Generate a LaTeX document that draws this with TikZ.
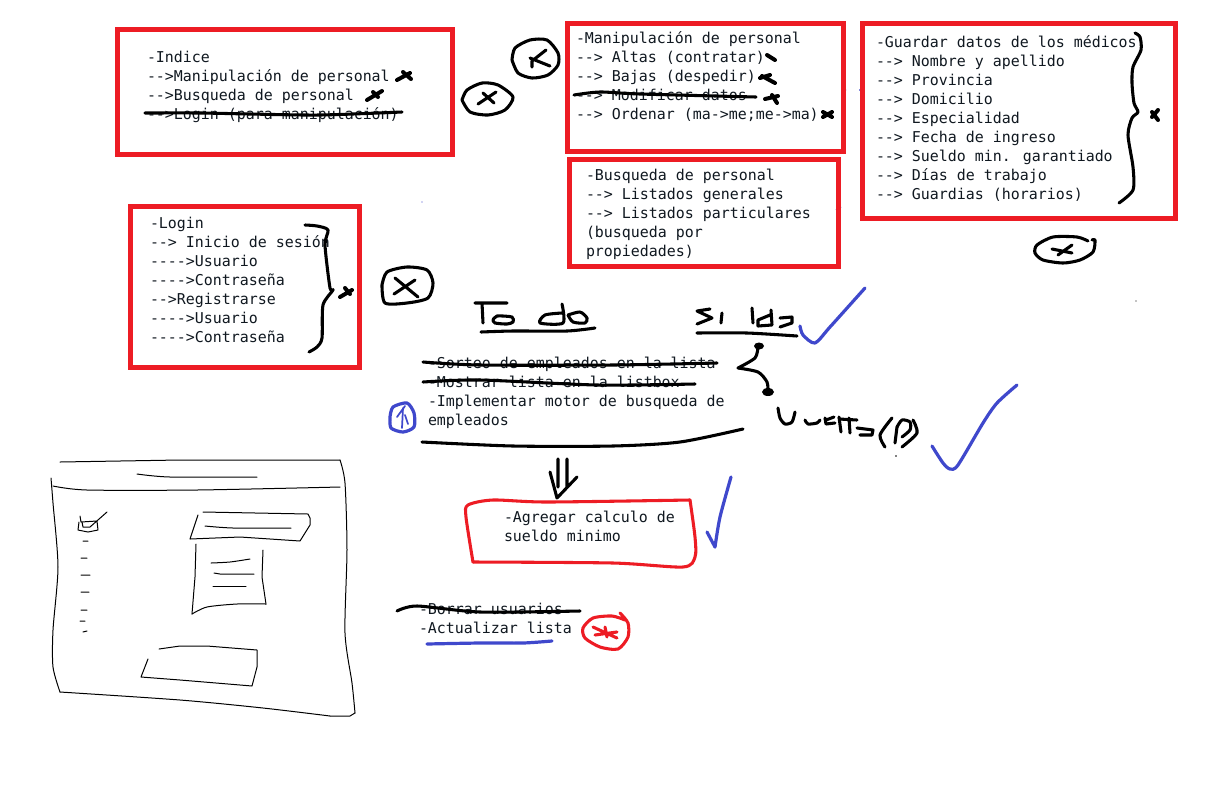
\documentclass[tikz,border=0pt]{standalone}
\usepackage{fontspec}
\newfontfamily\monof{DejaVu Sans Mono}
\newcommand\ls{\rule{0pt}{11pt}}
\newcommand\hand[2][ink]{\draw[#1] plot[smooth,tension=0.45] coordinates {#2};}
\definecolor{pred}{HTML}{ED1C24}
\definecolor{pblue}{HTML}{3F48CC}
\definecolor{tx}{HTML}{101820}
\tikzset{
 txt/.style={anchor=north west,inner sep=0pt,outer sep=0pt,align=left,text=tx,font=\monof\fontsize{11.2pt}{14.25pt}\selectfont},
 redbox/.style={draw=pred,line width=3.75pt,miter limit=10},
 ink/.style={draw=black,line width=2.3pt,line cap=round,line join=round},
 thick ink/.style={draw=black,line width=3pt,line cap=round,line join=round},
 pen/.style={draw=black,line width=0.75pt,line cap=round,line join=round},
 bluepen/.style={draw=pblue,line width=2.4pt,line cap=round,line join=round},
 bluefine/.style={draw=pblue,line width=1.3pt,line cap=round,line join=round},
 tinyblue/.style={draw=pblue,line width=0.9pt},
 redpen/.style={draw=pred,line width=2.3pt,line cap=round,line join=round},
}
\begin{document}
\begin{tikzpicture}[x=0.75pt,y=-0.75pt]
\useasboundingbox (0,0) rectangle (1211,794);
\fill[white] (0,0) rectangle (1211,794);
% blue specks
\draw[tinyblue] (845,52)--(845,53) (843,90)--(846,90) (861,50)--(862,57) (859,90)--(863,90) (861,193)--(864,186) (836,210)--(841,207);
% red boxes
\draw[redbox] (117.5,29.5) rectangle (452.5,154.5);
\draw[redbox] (567.5,23.5) rectangle (843.5,151.5);
\draw[redbox] (569.5,159.5) rectangle (838.5,266.5);
\draw[redbox] (862.5,23.5) rectangle (1175.5,218.5);
\draw[redbox] (130.5,206.5) rectangle (359.5,367.5);
% texts
\node[txt] (indice) at (147,47.33) {\ls-Indice\\-->Manipulación de personal\\-->Busqueda de personal\\-->Login (para manipulación)};
\node[txt] (manip) at (576,28.33) {\ls-Manipulación de personal\\--> Altas (contratar)\\--> Bajas (despedir)\\--> Modificar datos\\--> Ordenar (ma->me;me->ma)};
\node[txt] (busq) at (586,165.33) {\ls-Busqueda de personal\\--> Listados generales\\--> Listados particulares\\(busqueda por\\propiedades)};
\node[txt] (guardar) at (876,32.33) {\ls-Guardar datos de los médicos\\--> Nombre y apellido\\--> Provincia\\--> Domicilio\\--> Especialidad\\--> Fecha de ingreso\\--> Sueldo min. garantiado\\--> Días de trabajo\\--> Guardias (horarios)};
\node[txt] (login) at (150,213.33) {\ls-Login\\--> Inicio de sesión\\---->Usuario\\---->Contraseña\\-->Registrarse\\---->Usuario\\---->Contraseña};
\node[txt] (todo) at (428,353.33) {\ls-Sorteo de empleados en la lista\\-Mostrar lista en la listbox\\-Implementar motor de busqueda de\\empleados};
\node[txt] (agregar) at (504,507.33) {\ls-Agregar calculo de\\sueldo minimo};
\node[txt] (borrar) at (419,599.33) {\ls-Borrar usuarios\\-Actualizar lista};
% marks, box 1
\hand{(145,113)(200,113)(250,114)(320,115)(402,112)}
\draw[thick ink] (397,80)--(410,73) (403,72)--(411,79) (367,100)--(382,91) (373,92)--(378,97);
% circles top
\hand{(512,60)(515,48)(530,40)(547,40)(558,53)(558,65)(548,75)(532,78)(518,73)(512,60)}
\draw[ink] (530,58)--(550,66) (546,50)--(532,61)--(532,67);
\hand{(462,100)(467,90)(482,83)(498,85)(513,97)(505,110)(488,115)(470,112)(462,100)}
\draw[ink] (478,104)--(496,92) (483,93)--(494,103);
% marks, box 2
\hand{(574,95)(600,92)(640,94)(756,97)}
\draw[thick ink] (767,55)--(775,60) (762,76)--(775,83) (760,78)--(770,75) (765,99)--(778,96) (772,95)--(777,103) (823,112)--(832,117) (823,117)--(832,112);
% guardar brace
\hand{(1135,33)(1140,37)(1141,50)(1133,67)(1132,83)(1134,103)(1138,112)(1132,118)(1128,135)(1133,167)(1133,190)(1119,203)}
\draw[thick ink] (1152,112)--(1158,120) (1158,110)--(1152,117);
\hand{(1092,240)(1095,240)(1093,252)(1080,260)(1063,263)(1043,260)(1035,253)(1037,245)(1053,237)(1077,237)(1088,241)}
\draw[ink] (1052,249)--(1072,253) (1058,255)--(1072,245);
% login brace
\hand{(305,225)(317,226)(328,230)(325,245)(330,288)(333,290)(323,305)(322,338)(317,347)(309,352)}
\draw[thick ink] (340,297)--(352,290) (345,288)--(350,294);
\hand{(382,285)(387,272)(407,267)(427,270)(433,283)(428,298)(407,303)(385,303)(382,285)}
\draw[ink] (394,294)--(415,280) (395,278)--(418,297);
% To do
\draw[ink] (475,303)--(507,303) (482,303)--(483,323);
\hand{(493,320)(497,316)(512,317)(513,322)(507,324)(495,323)(493,320)}
\hand{(562,304)(563,323)(540,323)(545,315)(562,313)}
\hand{(568,315)(580,312)(587,318)(585,323)(573,322)(568,315)}
\hand{(481,332)(513,331)(567,331)(595,328)}
% si lda
\draw[ink] (710,309)--(697,311)--(712,318)--(697,324) (722,313)--(721,323) (752,308)--(753,323) (771,310)--(772,325)--(758,326)--(758,320)--(770,315) (780,318)--(792,317)--(792,323)--(780,327);
\hand{(697,333)(747,333)(797,336)}
\hand[bluepen]{(800,326)(803,335)(815,343)(830,327)(865,288)}
% curly arrows
\hand{(758,347)(755,358)(738,368)}
\hand{(738,368)(758,372)(767,382)(768,392)}
\fill[black] (759,346) ellipse[x radius=5,y radius=3.5];
\fill[black] (768,392) ellipse[x radius=6,y radius=4];
% Vuelta(P)
\hand{(778,408)(780,418)(785,424)(792,422)(795,412)}
\hand{(805,420)(808,424)(817,423)(820,420)}
\draw[ink] (825,418)--(826,424)--(835,423) (826,420)--(834,417) (839,417)--(841,432) (849,418)--(850,433) (839,419)--(857,420) (857,428)--(873,430)--(872,435)--(860,435);
\hand{(892,418)(880,435)(885,447)}
\draw[ink] (895,443)--(897,427);
\hand{(897,427)(902,420)(910,422)(910,430)(902,437)}
\hand{(913,420)(917,433)(902,447)}
\fill[black] (896,456) circle (0.8);
\hand[bluepen]{(932,446)(943,463)(950,469)(958,465)(983,423)(997,403)(1017,385)}
% To do strikes
\hand{(423,362)(480,365)(613,365)(717,363)}
\hand{(423,382)(480,380)(597,385)(695,384)}
\hand{(422,442)(513,446)(613,446)(680,442)(743,429)}
\hand[bluepen]{(390,417)(393,407)(407,403)(414,413)(414,427)(403,432)(391,428)(390,417)}
\draw[bluefine] (397,417)--(405,406) (403,408)--(402,428) (405,415)--(408,424);
% double arrow
\draw[ink] (558,459)--(558,487) (567,459)--(567,487) (550,472)--(557,498)--(577,477);
% hand box
\hand[redpen]{(690,500)(547,502)(493,500)(468,505)(466,517)(473,562)}
\hand[redpen]{(473,562)(613,563)(683,567)(695,557)(695,537)(690,500)}
\hand[bluepen]{(707,532)(715,547)}
\hand[bluepen]{(715,547)(720,517)(731,477)}
\hand{(397,611)(417,606)(480,612)(580,611)}
\hand[bluepen]{(427,644)(480,643)(523,643)(552,641)}
\hand[redpen]{(620,613)(628,623)(628,637)(618,649)(600,647)(585,638)(583,628)(593,618)(612,616)(625,620)}
\draw[redpen] (593,627)--(617,638) (595,635)--(617,632) (605,627)--(607,637);
% specks
\fill[pblue] (422,202) circle (0.6);
\fill[black] (1136,301) circle (0.7);
% window sketch
\draw[pen] (60,462)--(180,460)--(340,460);
\hand[pen]{(340,460)(345,483)(347,550)(345,633)(352,683)(355,713)}
\draw[pen] (355,713)--(350,716)--(330,716);
\hand[pen]{(330,716)(263,708)(180,700)(60,692)}
\hand[pen]{(60,692)(53,667)(53,630)(58,567)(53,503)(51,478)}
\hand[pen]{(53,486)(87,490)(197,490)(340,487)}
\hand[pen]{(137,474)(170,477)(257,477)}
\draw[pen] (80,516)--(81,522)--(97,521)--(98,530)--(88,532)--(78,530)--(79,522) (82,522)--(83,527)--(90,527)--(107,512);
\draw[pen] (83,541)--(88,541) (81,558)--(87,558) (81,575)--(90,575) (81,592)--(89,592) (81,610)--(87,610) (80,621)--(85,621) (83,632)--(87,631);
\draw[pen] (198,515)--(190,539)--(240,537)--(300,541)--(310,525)--(310,518)--(308,514)--(203,512);
\hand[pen]{(205,526)(233,528)(291,528)}
\draw[pen] (196,544)--(195,577)--(192,614);
\hand[pen]{(192,614)(207,607)(237,604)(266,604)}
\draw[pen] (266,604)--(262,577)--(263,550);
\hand[pen]{(211,563)(230,562)(250,559)}
\draw[pen] (214,573)--(220,574)--(254,574);
\draw[pen] (213,586)--(246,586);
\draw[pen] (159,649)--(180,646)--(207,646)--(257,650)--(257,667)--(252,686)--(180,680)--(141,677)--(148,659);
\end{tikzpicture}
\end{document}
